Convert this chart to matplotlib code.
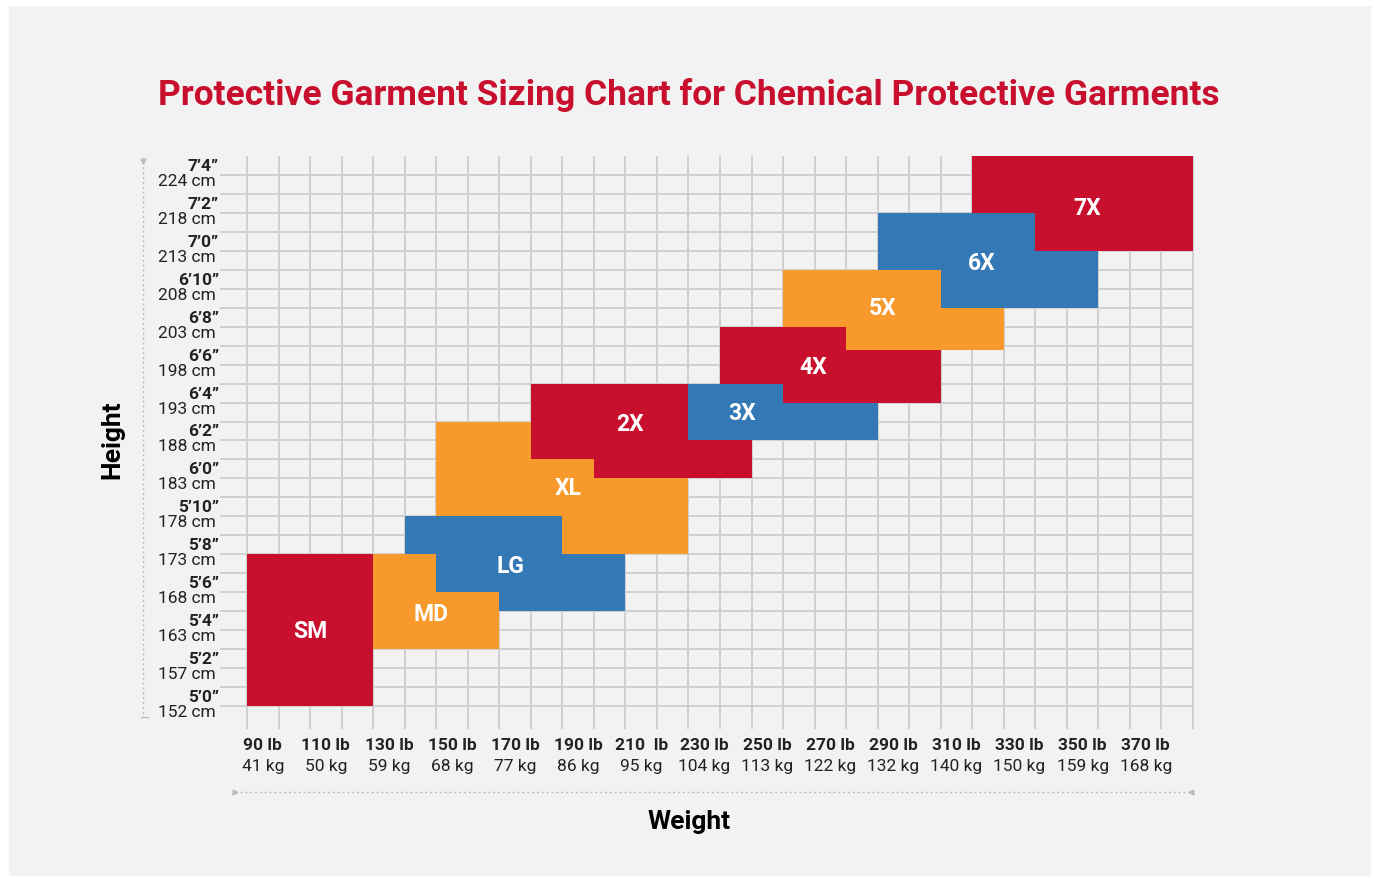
import matplotlib
matplotlib.use("Agg")
import matplotlib.pyplot as plt
from matplotlib.patches import Rectangle

plt.rcParams['font.family'] = ['Roboto', 'DejaVu Sans']

# ---------------- data ----------------
# visible rectangular pieces of each size block (weight in lb, height in inches)
piece_size = ["SM",
              "MD", "MD",
              "LG", "LG", "LG",
              "XL", "XL", "XL", "XL",
              "2X", "2X", "2X",
              "3X", "3X",
              "4X", "4X", "4X",
              "5X", "5X", "5X",
              "6X", "6X", "6X",
              "7X", "7X"]
piece_w0 = [85,
            125, 145,
            135, 145, 165,
            145, 175, 185, 195,
            175, 195, 225,
            225, 225,
            235, 255, 275,
            255, 275, 305,
            285, 305, 335,
            315, 335]
piece_w1 = [125,
            145, 165,
            185, 165, 205,
            175, 185, 195, 225,
            225, 245, 245,
            285, 255,
            255, 275, 305,
            275, 305, 325,
            305, 335, 355,
            335, 385]
piece_h0 = [60,
            63, 63,
            68, 66, 65,
            70, 70, 68, 68,
            73, 72, 73,
            74, 76,
            77, 76, 76,
            80, 78.75, 78.75,
            83, 81, 81,
            86, 84]
piece_h1 = [68,
            68, 66,
            70, 68, 68,
            75, 73, 73, 72,
            77, 73, 74,
            76, 77,
            80, 80, 78.75,
            83, 83, 81,
            86, 86, 84,
            89, 89]

sizes = ["SM", "MD", "LG", "XL", "2X", "3X", "4X", "5X", "6X", "7X"]
size_color = ["red", "orange", "blue", "orange", "red", "blue", "red", "orange", "blue", "red"]
label_w = [105, 143.5, 168.5, 187, 206.5, 242, 264.5, 286.5, 318, 351.5]
label_h = [64, 64.9, 67.4, 71.5, 74.9, 75.5, 77.9, 81, 83.4, 86.3]

height_in = [60, 62, 64, 66, 68, 70, 72, 74, 76, 78, 80, 82, 84, 86, 88]
height_ft = ["5’0”", "5’2”", "5’4”", "5’6”", "5’8”", "5’10”", "6’0”", "6’2”",
             "6’4”", "6’6”", "6’8”", "6’10”", "7’0”", "7’2”", "7’4”"]
height_cm = ["152 cm", "157 cm", "163 cm", "168 cm", "173 cm", "178 cm", "183 cm",
             "188 cm", "193 cm", "198 cm", "203 cm", "208 cm", "213 cm", "218 cm", "224 cm"]

weight_lb = [90, 110, 130, 150, 170, 190, 210, 230, 250, 270, 290, 310, 330, 350, 370]
weight_lb_lbl = ["90 lb", "110 lb", "130 lb", "150 lb", "170 lb", "190 lb", "210  lb",
                 "230 lb", "250 lb", "270 lb", "290 lb", "310 lb", "330 lb", "350 lb", "370 lb"]
weight_kg_lbl = ["41 kg", "50 kg", "59 kg", "68 kg", "77 kg", "86 kg", "95 kg", "104 kg",
                 "113 kg", "122 kg", "132 kg", "140 kg", "150 kg", "159 kg", "168 kg"]

# ---------------- style ----------------
PALETTE = {"red": "#c8102e", "orange": "#f7992b", "blue": "#3479b6"}
BG = "#f2f2f2"
GRID = "#d0d0d0"
TXT = "#222222"

W, H = 1378, 879
fig = plt.figure(figsize=(W / 100, H / 100), dpi=100)
fig.patch.set_facecolor("white")
fig.patches.append(Rectangle((9 / W, 2 / H), 1362 / W, 870 / H, transform=fig.transFigure,
                             facecolor=BG, edgecolor="none", zorder=-10))

ax = fig.add_axes([247 / W, 1 - 707 / H, 946 / W, 550 / H])
ax.set_facecolor("none")
ax.set_xlim(85, 385)
ax.set_ylim(60, 89)
for s in ax.spines.values():
    s.set_visible(False)
ax.set_xticks([])
ax.set_yticks([])

# grid
hy = list(range(60, 89))
ax.hlines(hy, 76.4, 385, colors=GRID, linewidth=1.4, zorder=1, clip_on=False)
vx = list(range(85, 386, 10))
ax.vlines(vx, 58.8, 89, colors=GRID, linewidth=1.4, zorder=1, clip_on=False)

# blocks
col_of = {s: PALETTE[c] for s, c in zip(sizes, size_color)}
for s, w0, w1, h0, h1 in zip(piece_size, piece_w0, piece_w1, piece_h0, piece_h1):
    ax.bar(w0, h1 - h0, width=w1 - w0, bottom=h0, align="edge",
           color=col_of[s], linewidth=0, zorder=3)

for s, x, y in zip(sizes, label_w, label_h):
    ax.text(x, y, s, color="white", fontsize=16.5, fontweight="bold",
            ha="center", va="center", zorder=5)

# y tick labels
ytr = ax.get_yaxis_transform()
xlab = -31 / 946
for h, ft, cm in zip(height_in, height_ft, height_cm):
    ax.annotate(ft, xy=(xlab + 3 / 946, h), xycoords=ytr, xytext=(0, 3.6),
                textcoords="offset points", ha="right", va="baseline",
                fontsize=12.5, fontweight="bold", color=TXT, annotation_clip=False)
    ax.annotate(cm, xy=(xlab, h), xycoords=ytr, xytext=(0, -7.2),
                textcoords="offset points", ha="right", va="baseline",
                fontsize=12.5, color=TXT, annotation_clip=False)

# x tick labels
xtr = ax.get_xaxis_transform()
for w, lb, kg in zip(weight_lb, weight_lb_lbl, weight_kg_lbl):
    ax.annotate(lb, xy=(w, 0), xycoords=xtr, xytext=(0, -31),
                textcoords="offset points", ha="center", va="baseline",
                fontsize=12.5, fontweight="bold", color=TXT, annotation_clip=False)
    ax.annotate(kg, xy=(w, 0), xycoords=xtr, xytext=(0, -46),
                textcoords="offset points", ha="center", va="baseline",
                fontsize=12.5, color=TXT, annotation_clip=False)

# dotted axis guides
fig.add_artist(plt.Line2D([143 / W, 143 / W], [1 - 163 / H, 1 - 718 / H], color="#bbbbbb",
                          linewidth=1, linestyle=(0, (1.5, 2)), transform=fig.transFigure))
fig.add_artist(plt.Line2D([143 / W], [1 - 162 / H], marker="v", markersize=3.5, color="#bbbbbb",
                          linestyle="none", transform=fig.transFigure))
fig.add_artist(plt.Line2D([141 / W, 148 / W], [1 - 718 / H, 1 - 718 / H], color="#bbbbbb",
                          linewidth=1, transform=fig.transFigure))
fig.add_artist(plt.Line2D([235 / W, 1191 / W], [1 - 793 / H, 1 - 793 / H], color="#bbbbbb",
                          linewidth=1, linestyle=(0, (1.5, 2)), transform=fig.transFigure))
fig.add_artist(plt.Line2D([235 / W], [1 - 793 / H], marker=">", markersize=3.5, color="#bbbbbb",
                          linestyle="none", transform=fig.transFigure))
fig.add_artist(plt.Line2D([1191 / W], [1 - 793 / H], marker="<", markersize=3.5, color="#bbbbbb",
                          linestyle="none", transform=fig.transFigure))

# titles
fig.text(689 / W, 1 - 105 / H, "Protective Garment Sizing Chart for Chemical Protective Garments",
         ha="center", va="baseline", fontsize=25.5, fontweight="bold", color=PALETTE["red"])
fig.text(112 / W, 1 - 440 / H, "Height", rotation=90, ha="center", va="center",
         fontsize=19, fontweight="bold", color="black")
fig.text(689 / W, 1 - 822 / H, "Weight", ha="center", va="center",
         fontsize=19, fontweight="bold", color="black")

fig.savefig("out.png", dpi=100, facecolor=fig.get_facecolor())
